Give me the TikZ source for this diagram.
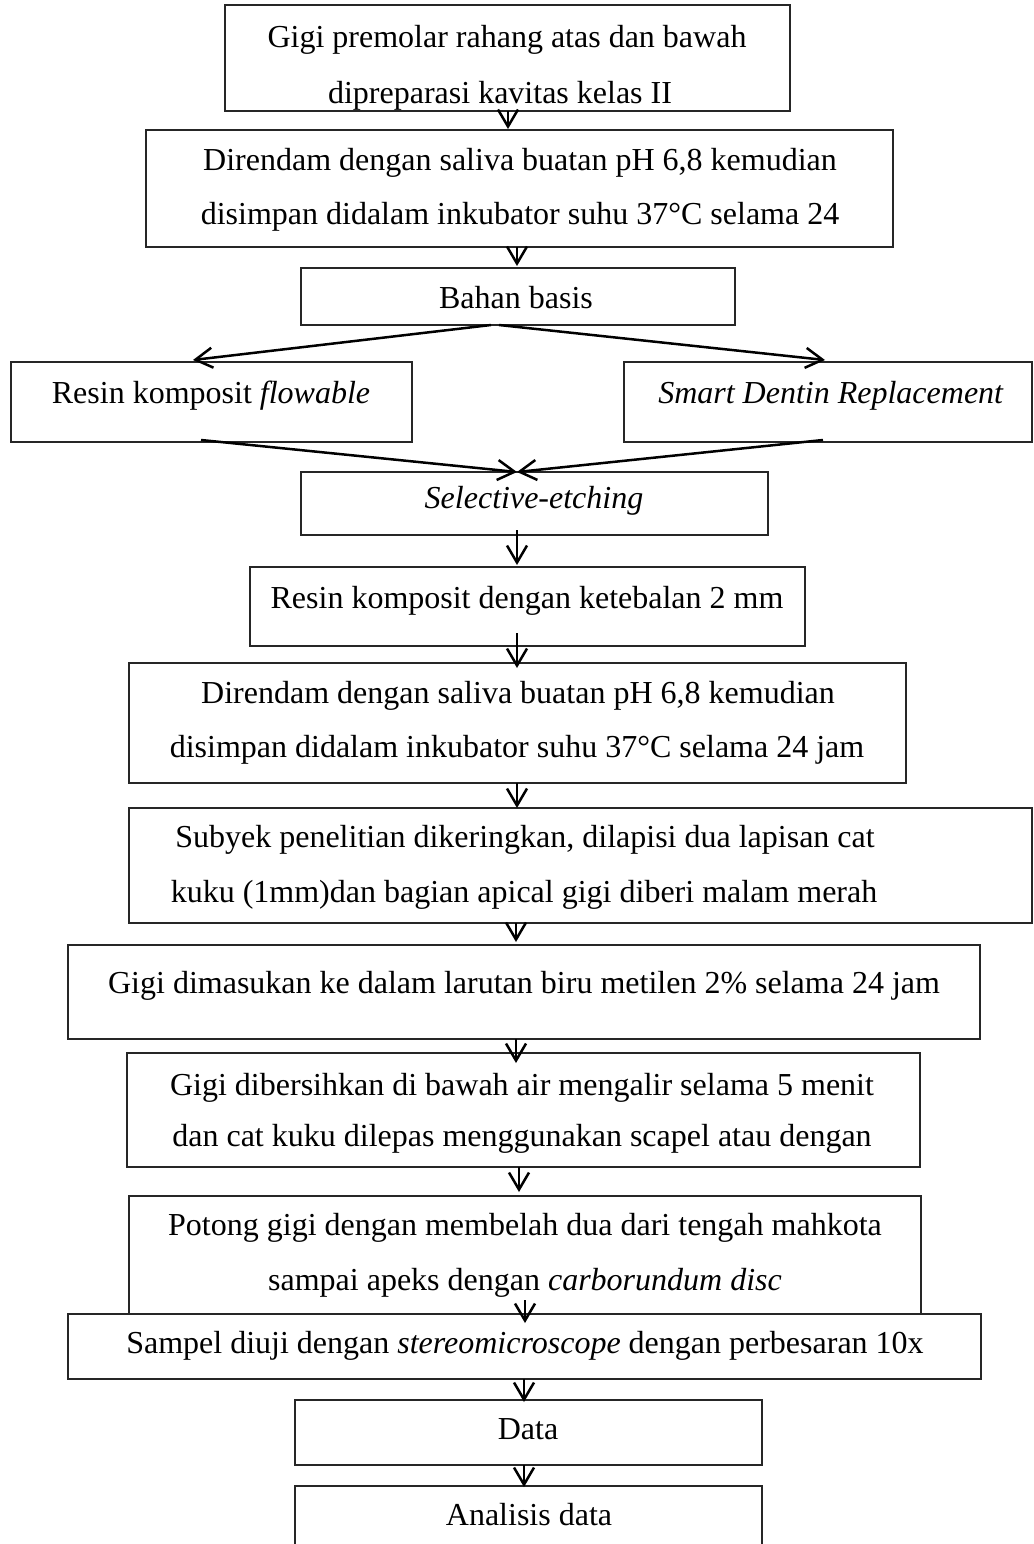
\documentclass[tikz,border=0pt]{standalone}
\usepackage{fontspec}
\setmainfont{Liberation Serif}
\usetikzlibrary{arrows.meta,calc}
\begin{document}
\begin{tikzpicture}[x=1pt,y=-1pt,
  box/.style={draw=black!85, line width=1.3pt, rectangle, inner sep=0pt, outer sep=0pt},
  txt/.style={anchor=base, inner sep=0pt, outer sep=0pt, font=\fontsize{32}{53}\selectfont},
  arr/.style={line width=2.5pt, -{Straight Barb[length=17pt,width=20pt,line width=2.5pt]}}]
\useasboundingbox (0,0) rectangle (1033,1544);
\clip (0,0) rectangle (1033,1544);
\fill[white] (0,0) rectangle (1033,1544);

% boxes
\node[box, minimum width=565pt, minimum height=106pt] (b1) at (507.5,58) {};
\node[box, minimum width=747pt, minimum height=117pt] (b2) at (519.5,188.5) {};
\node[box, minimum width=434pt, minimum height=57pt]  (b3) at (518,296.5) {};
\node[box, minimum width=401pt, minimum height=80pt]  (b4) at (211.5,402) {};
\node[box, minimum width=408pt, minimum height=80pt]  (b5) at (828,402) {};
\node[box, minimum width=467pt, minimum height=63pt]  (b6) at (534.5,503.5) {};
\node[box, minimum width=555pt, minimum height=79pt]  (b7) at (527.5,606.5) {};
\node[box, minimum width=777pt, minimum height=120pt] (b8) at (517.5,723) {};
\node[box, minimum width=903pt, minimum height=115pt] (b9) at (580.5,865.5) {};
\node[box, minimum width=912pt, minimum height=94pt]  (b10) at (524,992) {};
\node[box, minimum width=793pt, minimum height=114pt] (b11) at (523.5,1110) {};
\node[box, minimum width=792pt, minimum height=118pt] (b12) at (525,1255) {};
\node[box, fill=white, minimum width=913pt, minimum height=65pt] (b13) at (524.5,1346.5) {};
\node[box, minimum width=467pt, minimum height=65pt]  (b14) at (528.5,1432.5) {};
\node[box, minimum width=467pt, minimum height=74pt]  (b15) at (528.5,1523) {};

% texts
\begin{scope}
\clip (b1.north west) rectangle (b1.south east);
\node[txt] (t1a) at (507,48) {Gigi premolar rahang atas dan bawah};
\node[txt] (t1b) at (500,104) {dipreparasi kavitas kelas II};
\end{scope}
\node[txt] (t2a) at (520,170) {Direndam dengan saliva buatan pH 6,8 kemudian};
\node[txt] (t2b) at (520,224) {disimpan didalam inkubator suhu 37°C selama 24};
\node[txt] (t3) at (516,308) {Bahan basis};
\node[txt] (t4) at (211,403) {Resin komposit \textit{flowable}};
\node[txt] (t5) at (831,403) {\textit{Smart Dentin Replacement}};
\node[txt] (t6) at (534,508) {\textit{Selective-etching}};
\node[txt] (t7) at (527,608) {Resin komposit dengan ketebalan 2 mm};
\node[txt] (t8a) at (518,703) {Direndam dengan saliva buatan pH 6,8 kemudian};
\node[txt] (t8b) at (517,757) {disimpan didalam inkubator suhu 37°C selama 24 jam};
\node[txt] (t9a) at (525,847) {Subyek penelitian dikeringkan, dilapisi dua lapisan cat};
\node[txt] (t9b) at (524,902) {kuku (1mm)dan bagian apical gigi diberi malam merah};
\node[txt] (t10) at (524,993) {Gigi dimasukan ke dalam larutan biru metilen 2\% selama 24 jam};
\node[txt] (t11a) at (522,1095) {Gigi dibersihkan di bawah air mengalir selama 5 menit};
\node[txt] (t11b) at (522,1146) {dan cat kuku dilepas menggunakan scapel atau dengan};
\node[txt] (t12a) at (525,1235) {Potong gigi dengan membelah dua dari tengah mahkota};
\node[txt] (t12b) at (525,1290) {sampai apeks dengan \textit{carborundum disc}};
\node[txt] (t13) at (525,1353) {Sampel diuji dengan \textit{stereomicroscope} dengan perbesaran 10x};
\node[txt] (t14) at (528,1439) {Data};
\node[txt] (t15) at (529,1525) {Analisis data};

% connectors
\draw[arr] ($(b1.south)+(0.5,0)$) -- ($(b2.north)+(-11.5,-1)$);
\draw[arr] ($(b2.south)+(-2.5,0)$) -- ($(b3.north)+(-1,-2)$);
\draw[arr] ($(b3.south)+(-27,0)$) -- ($(b4.north)+(-18.5,-2)$);
\draw[arr] ($(b3.south)+(-19,0)$) -- ($(b5.north)+(-3,-2)$);
\draw[arr] ($(b4.south)+(-10.5,-2)$) -- ($(b6.north)+(-17.5,0)$);
\draw[arr] ($(b5.south)+(-5,-2)$) -- ($(b6.north)+(-17.5,0)$);
\draw[arr] ($(b6.south)+(-17.5,-5)$) -- ($(b7.north)+(-10.5,-2)$);
\draw[arr] ($(b7.south)+(-10.5,-13)$) -- ($(b8.north)+(-0.5,5)$);
\draw[arr] ($(b8.south)+(-0.5,0)$) -- ($(b9.north)+(-63.5,0)$);
\draw[arr] ($(b9.south)+(-64.5,0)$) -- ($(b10.north)+(-8,-3)$);
\draw[arr] ($(b10.south)+(-8,0)$) -- ($(b11.north)+(-7.5,10)$);
\draw[arr] ($(b11.south)+(-4.5,0)$) -- ($(b12.north)+(-6,-4)$);
\draw[arr] ($(b12.south)+(0,-14)$) -- ($(b13.north)+(0.5,9)$);
\draw[arr] ($(b13.south)+(-0.5,0)$) -- ($(b14.north)+(-4.5,2)$);
\draw[arr] ($(b14.south)+(-4.5,0)$) -- ($(b15.north)+(-4.5,1)$);
\end{tikzpicture}
\end{document}
